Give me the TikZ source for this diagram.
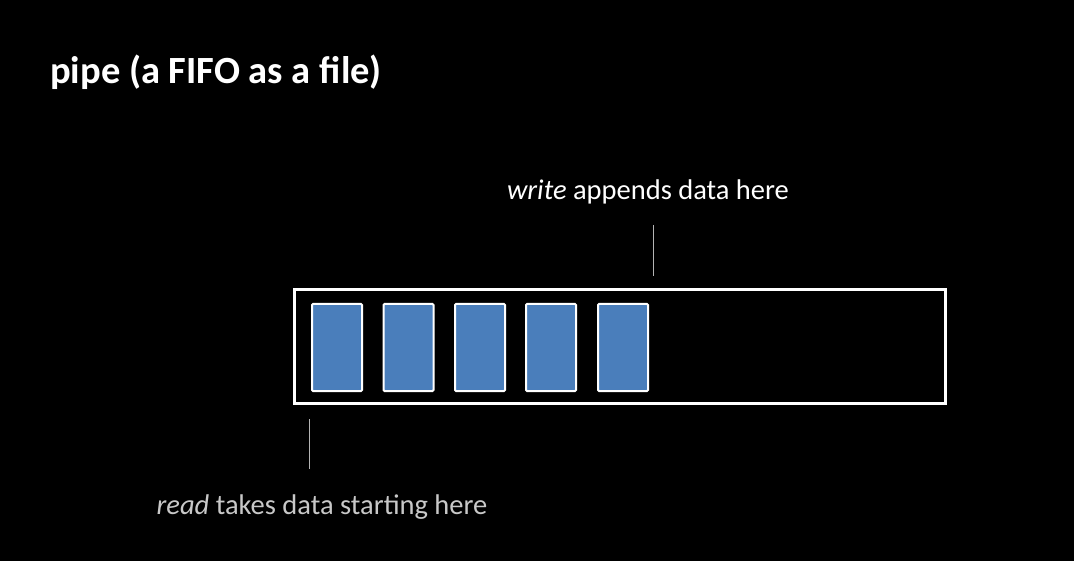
\documentclass[tikz,border=0pt]{standalone}
\usepackage{fontspec}
\setmainfont{Carlito}
\begin{document}
\begin{tikzpicture}[x=1pt,y=-1pt,
  slot/.style={draw=white,line width=2pt,fill=slotblue,rounded corners=1pt,minimum width=50pt,minimum height=87pt,inner sep=0pt},
  marker/.style={draw=markgray,line width=1pt},
  lbl/.style={inner sep=0pt,font=\fontsize{28.5}{32}\selectfont}]
\definecolor{slotblue}{HTML}{4A7EBB}
\definecolor{markgray}{HTML}{B4B4B4}
\definecolor{readgray}{HTML}{C8C8C8}
\fill[black] (0,0) rectangle (1074,561);
\useasboundingbox (0,0) rectangle (1074,561);
\node[anchor=base west,inner sep=0pt,text=white,font=\fontsize{38.5}{42}\selectfont\bfseries] (title) at (50,84) {pipe (a FIFO as a file)};
\node[draw=white,line width=2.5pt,minimum width=651pt,minimum height=114pt,inner sep=0pt] (pipe) at (620,346.5) {};
\foreach \i/\x in {1/337,2/408.5,3/480,4/551,5/623}{
  \node[slot] (s\i) at (\x,347.5) {};
}
\node[lbl,anchor=base,text=white] (wlbl) at (648,200) {\textit{write} appends data here};
\node[lbl,anchor=base,text=readgray] (rlbl) at (322,514) {\textit{read} takes data starting here};
\coordinate (wtop) at (653,225);
\coordinate (wbot) at (653,276);
\coordinate (rtop) at (309.5,419);
\coordinate (rbot) at (309.5,469);
\draw[marker] (wtop) -- (wbot);
\draw[marker] (rtop) -- (rbot);
\end{tikzpicture}
\end{document}
